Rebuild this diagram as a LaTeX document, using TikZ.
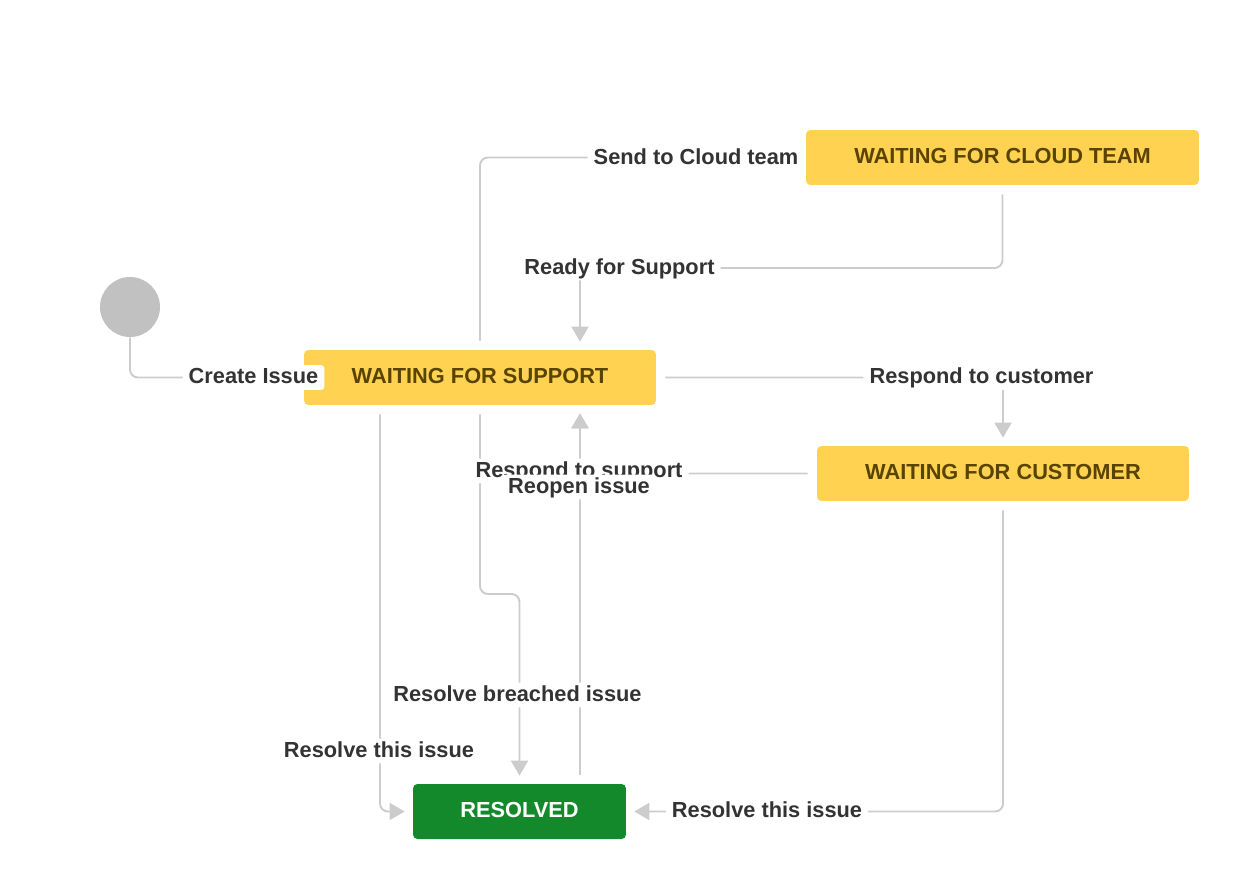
\documentclass[tikz,border=0pt]{standalone}
\usepackage{fontspec}
\setmainfont{Liberation Sans}
\usetikzlibrary{arrows.meta}

\definecolor{stateyellow}{HTML}{FFD351}
\definecolor{statetext}{HTML}{594300}
\definecolor{donegreen}{HTML}{14892C}
\definecolor{startgray}{HTML}{C1C1C1}
\definecolor{linegray}{HTML}{CCCCCC}
\definecolor{labeltext}{HTML}{333333}

\begin{document}
\begin{tikzpicture}[x=0.02cm,y=-0.02cm,
		every node/.style={font=\fontsize{12.4}{14}\selectfont\bfseries,text height=0.72em,text depth=0pt},
		state/.style={fill=stateyellow,text=statetext,rounded corners=2.5pt,minimum height=1.1cm,inner sep=0pt},
		done/.style={fill=donegreen,text=white,rounded corners=2.5pt,minimum height=1.1cm,minimum width=4.26cm,inner sep=0pt},
		flow/.style={draw=linegray,line width=1.1pt,rounded corners=4.5pt,-{Triangle[length=0.3cm,width=0.34cm]},shorten <=0.18cm,shorten >=0.16cm},
		lbl/.style={fill=white,text=labeltext,inner sep=3.5pt,rounded corners=2pt}]
		\useasboundingbox (0,0) rectangle (1240,878);

		\node [circle,fill=startgray,minimum size=1.2cm,inner sep=0pt] (start) at (130,307) {};
		\node [state,minimum width=7.04cm] (wfs) at (480,377.5) {WAITING FOR SUPPORT};
		\node [state,minimum width=7.86cm] (wfc) at (1002.5,157.5) {WAITING FOR CLOUD TEAM};
		\node [state,minimum width=7.44cm] (wfcu) at (1003,473.5) {WAITING FOR CUSTOMER};
		\node [done] (res) at (519.5,811.5) {RESOLVED};

		\coordinate (rfs bend) at (580,268);
		\coordinate (jog) at (519.5,594);
		\coordinate (left col) at (380,0);
		\coordinate (right col) at (580,0);

		\draw [flow,shorten <=0pt] (start.south) |- (wfs.west);
		\draw [flow] (wfs.north) |- (wfc.west);
		\draw [flow] (wfc.south) |- (rfs bend) -- (wfs.north -| rfs bend);
		\draw [flow] (wfs.east) -| (wfcu.north);
		\draw [flow] (wfcu.west) -| (wfs.south -| right col);
		\draw [flow] (res.north -| right col) -- (wfs.south -| right col);
		\draw [flow] (wfs.south) |- (jog) -- (res.north);
		\draw [flow] (wfs.south -| left col) |- (res.west);
		\draw [flow] (wfcu.south) |- (res.east);

		\node [lbl] (create) at (253.5,377.5) {Create Issue};
		\node [lbl] (send) at (696,158) {Send to Cloud team};
		\node [lbl] (ready) at (619.5,268) {Ready for Support};
		\node [lbl] (tocust) at (981.5,377.5) {Respond to customer};
		\node [lbl] (tosupp) at (579,471) {Respond to support};
		\node [lbl] (reopen) at (579,487) {Reopen issue};
		\node [lbl] (breach) at (517.5,695) {Resolve breached issue};
		\node [lbl] (resolve l) at (379,751) {Resolve this issue};
		\node [lbl] (resolve r) at (767,811.5) {Resolve this issue};

	\end{tikzpicture}
\end{document}
